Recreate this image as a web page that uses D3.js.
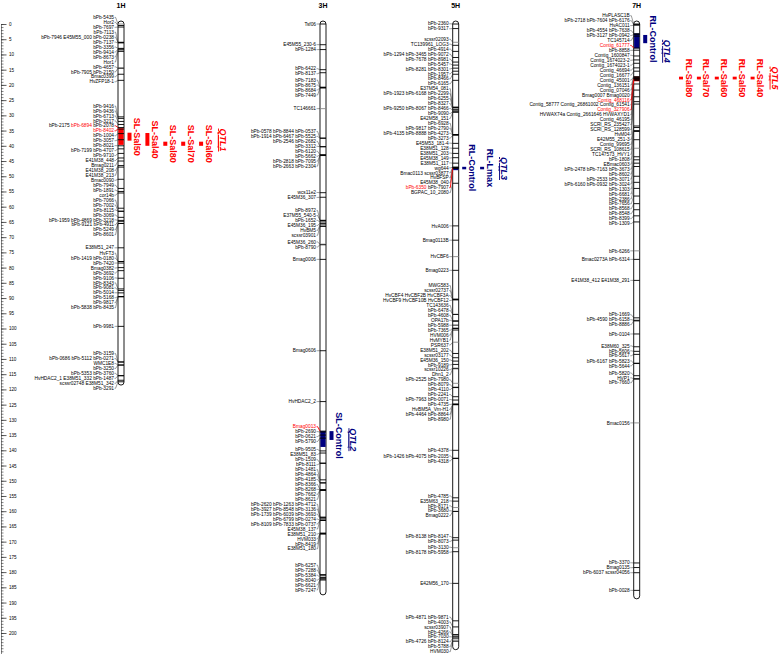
<!DOCTYPE html>
<html>
<head>
<meta charset="utf-8">
<script src="https://cdn.jsdelivr.net/npm/d3@7"></script>
<style>
  body { margin: 0; background: #fff; }
  svg { display: block; font-family: "Liberation Sans", Arial, sans-serif; }
</style>
</head>
<body>
<svg id="map" width="779" height="654"></svg>
<script>
// chromosomes and their lengths (cM)
const chromNames = ["1H", "3H", "5H", "7H"];
const chromLength = [117.6, 186.5, 204.5, 187.8];

// marker labels and positions (cM), one pair of lists per chromosome
const markers1H = ["bPb-5435", "Hor2", "bPb-7697", "bPb-7113", "bPb-7946 E45M55_000 bPb-0238", "bPb-7137", "bPb-3356", "bPb-9414", "bPb-8673", "Hor1", "bPb-4657", "bPb-7905 bPb-2150", "Bmac0399", "HvZFP18-1",
  "bPb-9416", "bPb-9436", "bPb-6713", "bPb-3217", "bPb-2175 bPb-6894 bPb-2078", "bPb-8402", "bPb-1004", "bPb-3057", "bPb-8021", "bPb-7199 bPb-4707", "bPb-9710", "E41M38_448", "Bmag0211", "E41M38_208", "E41M38_213", "Bmac0090", "bPb-7949", "bPb-1891", "cor14b", "bPb-7066", "bPb-7002", "bPb-8115", "bPb-3069", "bPb-1959 bPb-4869 bPb-3218", "bPb-9121 bPb-4911", "bPb-5249", "bPb-8601",
  "E38M51_247", "HvFT3", "bPb-1419 bPb-0180", "bPb-7420", "Bmag0382", "bPb-3692", "bPb-9106", "bPb-8343", "bPb-9081", "bPb-5014", "bPb-5168", "bPb-9817", "bPb-5838 bPb-8435", "bPb-9981",
  "bPb-3159", "bPb-0686 bPb-5112 bPb-0271", "WMC1E8", "bPb-3250", "bPb-5353 bPb-3760", "HvHDAC2_1 E38M51_332 bPb-1487", "scssr02748 E38M51_342", "bPb-3291"];
const cm1H = [0, 0.5, 1, 6, 6.1, 6.2, 8, 8.2, 8.5, 9, 14.5, 14.5, 16.5, 18.5,
  30.5, 31, 32, 33, 34, 34.5, 36, 38, 40, 41, 42.5, 44, 45, 46.5, 47, 51, 54, 55, 55.5, 60.5, 61.5, 61.5, 63.5, 64.5, 64.8, 65.5, 65.5,
  73.5, 78, 78, 78.5, 80, 81, 83.5, 87, 87.5, 88.3, 89.5, 89.5, 89.6, 99.3,
  111, 111, 112, 112, 115.5, 115.5, 117, 117.5];

const markers3H = ["Tsf06", "E45M55_230-6", "bPb-1284", "bPb-6422", "bPb-8137", "bPb-7183", "bPb-8675", "bPb-8684", "bPb-7449", "TC146661",
  "bPb-0578 bPb-8844 bPb-0537", "bPb-1914 bPb-6467 bPb-5525", "bPb-2546 bPb-2682", "bPb-3312", "bPb-6120", "bPb-5662", "bPb-2818 bPb-7095", "bPb-2663 bPb-2304",
  "wcs11e2", "E45M36_307", "bPb-8972", "E37M55_540-5", "bPb-1652", "E45M36_195", "HvBM5", "scssr03901", "E45M36_260", "bPb-8790", "Bmag0006", "Bmag0606", "HvHDAC2_2",
  "Bmag0013", "bPb-2690", "bPb-0621", "bPb-5790", "bPb-9505", "E38M51_83", "bPb-1509", "bPb-8111", "bPb-1481", "bPb-4864", "bPb-4185", "bPb-8366", "bPb-8268", "bPb-7662", "bPb-8621",
  "bPb-2620 bPb-1263 bPb-4712", "bPb-3927 bPb-8548 bPb-3136", "bPb-1739 bPb-6039 bPb-3693", "bPb-6799 bPb-0274", "bPb-8109 bPb-7833 bPb-0737", "E45M38_137", "E38M51_210", "HVM033", "bPb-8419", "E38M51_180",
  "bPb-6257", "bPb-7288", "bPb-5384", "bPb-8040", "bPb-6621", "bPb-7247"];
const cm3H = [0, 6.8, 8.4, 15, 16, 20.8, 20.8, 20.9, 21, 27.8,
  37.5, 37.5, 40.3, 40.3, 43, 43, 43.1, 43.2,
  55.4, 56.9, 64.5, 64.5, 65, 65.5, 66, 66.5, 72.3, 72.5, 77.3, 107.3, 124,
  133.7, 134, 135, 136, 140.2, 140.9, 144.2, 144.3, 149.7, 150.7, 150.7, 153, 153, 153, 153.2,
  162, 162, 162.5, 163, 163, 163, 167.2, 167.3, 167.4, 167.5,
  180.8, 181.2, 181.8, 182, 182.3, 182.6];

const markers5H = ["bPb-2360", "bPb-9317", "scssr02093", "TC139961_LOG3", "bPb-4914", "bPb-1294 bPb-3465 bPb-9072", "bPb-7678 bPb-8981", "bPb-5457", "bPb-8281 bPb-8301", "bPb-1957", "bPb-8466",
  "bPb-6165", "E37M54_081", "bPb-1923 bPb-6168 bPb-2299", "bPb-6255", "bPb-8327", "bPb-9250 bPb-8067 bPb-8466", "bPb-9090", "E42M58_151", "bPb-6928", "bPb-9817 bPb-2790", "bPb-4135 bPb-8888 bPb-4273", "bPb-3273",
  "E45M53_181-4", "E38M51_128", "E38M51_203", "E45M38_149", "E38M51_117", "wg644", "Bmac0113 scssr03877", "HvBFSP", "E45M38_040", "bPb-6350 bPb-7907", "BGPAC_10_2080",
  "HvA006", "Bmag0113B", "HvCBF6", "Bmag0223",
  "MWG583", "scssr02737", "HvCBF4 HvCBF2B HvCBF3A", "HvCBF9 HvCBF10B HvCBF12", "TC143636", "bPb-6478", "bPb-4608", "OPA17b", "bPb-5988", "bPb-7365", "HVM006", "HvMYB1", "PSR637", "E38M51_202", "scssr03177", "E45M36_150", "bPb-9189", "scssr10226", "Dhn1_2", "bPb-2525 bPb-7980", "bPb-8079", "bPb-4110", "bPb-2241", "bPb-7963 bPb-0071", "bPb-4735", "HvBM5A_Vrn-H1", "bPb-4464 bPb-8864", "bPb-8980",
  "bPb-4378", "bPb-1426 bPb-4075 bPb-2035", "bPb-4318", "bPb-4785", "E35M63_218", "bPb-8171", "bPb-3680", "Bmag0222", "bPb-8138 bPb-8147", "bPb-8073", "bPb-3130", "bPb-8178 bPb-5958", "E42M56_170",
  "bPb-4871 bPb-9871", "bPb-4003", "scssr03907", "bPb-4266", "bPb-7030", "bPb-4726 bPb-8124", "bPb-5788", "HVM030"];
const cm5H = [0, 1.5, 6, 7, 9, 11, 12.5, 13.5, 14.5, 15.5, 16.5,
  18.5, 27.3, 27.4, 27.5, 28, 28.3, 28.8, 29, 36.3, 36.3, 36.4, 36.5,
  39.2, 40.8, 42.5, 43.9, 45.7, 47, 47.1, 47.2, 47.3, 47.4, 52.3,
  66.3, 71, 76.4, 80.9,
  90.4, 90.4, 90.5, 90.6, 95.3, 95.4, 97.5, 97.6, 98.9, 99.9, 100, 100.5, 104.5, 108.2, 109.6, 110.7, 111.8, 113, 113.2, 118, 119.3, 119.4, 122.4, 123.5, 124.8, 124.9, 125, 125,
  140, 142.6, 142.7, 155.6, 156.7, 158.8, 160, 160.1, 168.7, 169.5, 172, 173.3, 183.7,
  196, 198, 200.5, 201, 201.3, 201.7, 202.3, 202.7];

const markers7H = ["HvPLASC1B", "bPb-2718 bPb-7604 bPb-6176", "HvAC011", "bPb-4554 bPb-7638", "bPb-3127 bPb-0942", "TC145714", "Contig_61777", "bPb-8858", "Contig_1600847", "Contig_1674023-2", "Contig_1674023-1", "Contig_46694", "Contig_16677",
  "Contig_45001", "Contig_136151", "Contig_07046", "Bmag0007 Bmag0020", "Contig_468116", "Contig_58777 Contig_26861002 Contig_61541", "Contig_327906", "HVWAX74a Contig_2661646 HVWAXYD1", "Contig_46195", "SCRI_RS_235427", "SCRI_RS_128599", "HvM04",
  "E42M55_251-3", "Contig_99695", "SCRI_RS_108615", "TC147573_HVY1", "bPb-1808", "EBmac0603", "bPb-2478 bPb-7163 bPb-3673", "bPb-8602", "bPb-2533 bPb-3071", "bPb-6160 bPb-0932 bPb-3024", "bPb-1303", "bPb-6681", "bPb-2386", "bPb-7656", "bPb-8568", "bPb-8548", "bPb-8399", "bPb-1309",
  "bPb-6266", "Bmac0273A bPb-6314", "E41M38_412 E41M38_291", "bPb-1669", "bPb-4590 bPb-6158", "bPb-8886", "bPb-0104",
  "E38M60_325", "bPb-5606", "bPb-5617", "bPb-6167 bPb-5823", "bPb-5644", "bPb-5820", "HVP1", "bPb-7660", "Bmac0156",
  "bPb-3370", "Bmag0135", "bPb-6037 scssr04056", "bPb-0028"];
const cm7H = [0, 0.2, 0.4, 3.2, 3.5, 4, 7.9, 8.6, 10.5, 11.8, 12.9, 14.4, 15.5,
  17.3, 17.5, 17.7, 17.9, 18.1, 18.3, 18.5, 19.7, 21.7, 23.9, 25.5, 26.3,
  33.5, 34, 35, 35.3, 38, 40.8, 43.6, 44.6, 45.7, 46.8, 50, 52, 54, 56.5, 59, 61, 63, 65,
  74.5, 77.3, 84.2, 96.5, 97.3, 97.5, 101.8,
  106, 107.5, 108.5, 111.4, 111.5, 115.5, 116.5, 116.6, 131,
  177, 178.5, 180.2, 186];

const markerNames = [markers1H, markers3H, markers5H, markers7H];
const markerCm = [cm1H, cm3H, cm5H, cm7H];

// markers printed in red, and markers drawn with a grey line on the bar
const redMarkers = ["bPb-6894", "bPb-8402", "Bmag0013", "bPb-6350", "Contig_61777", "Contig_468116", "Contig_327906"];
const greyMarkers = ["bPb-5435", "bPb-4657", "TC146661", "E45M36_260", "scssr02093", "HvCBF6", "TC143636", "PSR637", "scssr10226",
  "bPb-2525 bPb-7980", "bPb-8171", "bPb-3680", "bPb-3130", "bPb-5788", "EBmac0603", "bPb-6266", "Bmac0156"];

// QTL regions
const qtlIds = ["QTL1", "QTL2", "QTL3", "QTL4", "QTL5"];
const qtlChrom = ["1H", "3H", "5H", "7H", "7H"];
const qtlFrom = [35.8, 134, 46.9, 8.3, 17.1];
const qtlTo = [40.4, 139, 48, 9.6, 18.4];
// flanking-marker span shaded on the chromosome
const spanFrom = [34.2, 133.7, 47, 3.1, 17.3];
const spanTo = [39.7, 138.9, 48, 8.0, 18.8];

// traits detected in each QTL
const traitNames = ["SL-Sal50", "SL-Sal40", "SL-Sal80", "SL-Sal70", "SL-Sal60", "SL-Control", "RL-Control", "RL-Lmax", "RL-Control",
  "RL-Sal80", "RL-Sal70", "RL-Sal60", "RL-Sal50", "RL-Sal40"];
const traitQtl = [0, 0, 0, 0, 0, 1, 2, 2, 3, 4, 4, 4, 4, 4];
const traitFrom = [35.7, 35.8, 38.65, 38.65, 38.65, 133.7, 46.9, 46.9, 3.6, 17.3, 17.3, 17.3, 17.3, 17.3];
const traitTo = [38.3, 40.0, 40.0, 40.0, 40.0, 136.6, 47.5, 47.6, 6.3, 18.2, 18.2, 18.2, 18.2, 18.2];

//----------------------------------------------------------------------------

const RED = "#ff0000", BLUE = "#000080";
const barLeft = [118, 320, 452.7, 633.7];
const barW = 6;
const labelGap = 4.95;

const svg = d3.select("#map");
const y = d3.scaleLinear().domain([0, 200]).range([24, 633]);

// ruler on the left
const yr = y.copy().domain([0, 208]).range([y(0), y(208)]);
svg.append("g")
  .attr("transform", "translate(1,0)")
  .call(d3.axisRight(yr).tickValues(d3.range(0, 208, 1)).tickSize(2.5).tickFormat("").tickSizeOuter(0))
  .call(g => g.selectAll("line,path").attr("stroke", "#333").attr("stroke-width", 0.6));
svg.append("g")
  .attr("transform", "translate(1,0)")
  .call(d3.axisRight(yr).tickValues(d3.range(0, 201, 5)).tickSize(5.5).tickPadding(2.5).tickSizeOuter(0))
  .call(g => g.select(".domain").remove())
  .call(g => g.selectAll("line").attr("stroke", "#333").attr("stroke-width", 0.8))
  .call(g => g.selectAll("text").attr("font-size", 4.6).attr("font-family", "Liberation Sans, Arial, sans-serif").attr("fill", "#000"));

// push labels apart, keeping each cluster centred on its markers
function spread(targets, gap, minTop) {
  const blocks = [];
  targets.forEach(t => {
    let b = { ts: [t], top: Math.max(t, minTop) };
    while (blocks.length) {
      const prev = blocks[blocks.length - 1];
      if (prev.top + prev.ts.length * gap <= b.top + 0.01) break;
      blocks.pop();
      const all = prev.ts.concat(b.ts);
      b = { ts: all, top: Math.max(minTop, d3.mean(all, (v, k) => v - k * gap)) };
    }
    blocks.push(b);
  });
  return blocks.flatMap(b => b.ts.map((_, k) => b.top + k * gap));
}

const isSal = t => t.includes("Sal");

chromNames.forEach((chrom, ci) => {
  const x0 = barLeft[ci], x1 = x0 + barW;
  const g = svg.append("g");
  const names = markerNames[ci];
  const ty = markerCm[ci].map(v => y(v));
  const ly = spread(ty, labelGap, y(0) - 8.3);

  g.append("text")
    .attr("x", x0 + barW / 2).attr("y", 8)
    .attr("text-anchor", "middle")
    .attr("font-size", 7).attr("font-weight", "bold")
    .text(chrom);

  // chromosome bar
  g.append("rect")
    .attr("x", x0).attr("y", y(0) - 3)
    .attr("width", barW).attr("height", y(chromLength[ci]) - y(0) + 6)
    .attr("rx", 3)
    .attr("fill", "#fff").attr("stroke", "#000").attr("stroke-width", 0.9);

  // shaded QTL spans on the bar
  qtlIds.forEach((q, qi) => {
    if (qtlChrom[qi] !== chrom) return;
    const col = traitNames.some((t, k) => traitQtl[k] === qi && isSal(t)) ? RED : BLUE;
    g.append("rect")
      .attr("x", x0 + 0.4).attr("y", y(spanFrom[qi]))
      .attr("width", barW - 0.8).attr("height", Math.max(1.5, y(spanTo[qi]) - y(spanFrom[qi])))
      .attr("fill", col);
  });

  // marker lines across the bar
  g.selectAll(".mk").data(names).enter().append("line")
    .attr("x1", x0).attr("x2", x1)
    .attr("y1", (d, i) => ty[i]).attr("y2", (d, i) => ty[i])
    .attr("stroke", d => greyMarkers.includes(d) ? "#888" : "#000")
    .attr("stroke-width", 0.9);

  const hasRed = d => d.split(" ").some(s => redMarkers.includes(s));
  const lx = x0 - 4;

  // connectors from labels to the bar
  g.selectAll(".cn").data(names).enter().append("path")
    .attr("d", (d, i) => `M${lx + 0.6},${ly[i]}H${lx + 1.6}L${x0},${ty[i]}`)
    .attr("fill", "none")
    .attr("stroke", d => hasRed(d) ? RED : "#222")
    .attr("stroke-width", d => hasRed(d) ? 0.9 : 0.45);

  // labels
  const lab = g.selectAll(".lb").data(names).enter().append("text")
    .attr("x", lx).attr("y", (d, i) => ly[i])
    .attr("dy", "0.35em")
    .attr("text-anchor", "end")
    .attr("font-size", 4.8);
  lab.each(function (d) {
    const parts = d.split(" ");
    parts.forEach((p, k) => {
      d3.select(this).append("tspan")
        .attr("fill", redMarkers.includes(p) ? RED : "#000")
        .text(p + (k < parts.length - 1 ? " " : ""));
    });
  });

  // QTL columns to the right of the bar
  let col = 0;
  const colX = c => x1 + 3.5 + c * 17.9;
  qtlIds.forEach((q, qi) => {
    if (qtlChrom[qi] !== chrom) return;
    let qColor = BLUE;
    traitNames.forEach((t, k) => {
      if (traitQtl[k] !== qi) return;
      const c = isSal(t) ? RED : BLUE;
      if (c === RED) qColor = RED;
      const bx = colX(col++);
      const ya = y(traitFrom[k]), yb = y(traitTo[k]);
      g.append("rect")
        .attr("x", bx).attr("y", ya)
        .attr("width", 4).attr("height", Math.max(2.5, yb - ya))
        .attr("fill", c);
      g.append("text")
        .attr("transform", `translate(${bx + 6.5},${(ya + yb) / 2}) rotate(90)`)
        .attr("text-anchor", "middle")
        .attr("font-size", 9).attr("font-weight", "bold")
        .attr("fill", c)
        .text(t);
    });
    const bx = colX(col++);
    const ya = y(qtlFrom[qi]), yb = y(qtlTo[qi]);
    g.append("path")
      .attr("d", `M${bx},${ya}H${bx + 2.4}M${bx + 1.2},${ya}V${yb}M${bx},${yb}H${bx + 2.4}`)
      .attr("fill", "none").attr("stroke", qColor).attr("stroke-width", 0.6);
    g.append("text")
      .attr("transform", `translate(${bx + 3},${(ya + yb) / 2}) rotate(90)`)
      .attr("text-anchor", "middle")
      .attr("font-size", 9).attr("font-weight", "bold").attr("font-style", "italic")
      .attr("text-decoration", "underline")
      .attr("fill", qColor)
      .text(q);
  });
});
</script>
</body>
</html>
